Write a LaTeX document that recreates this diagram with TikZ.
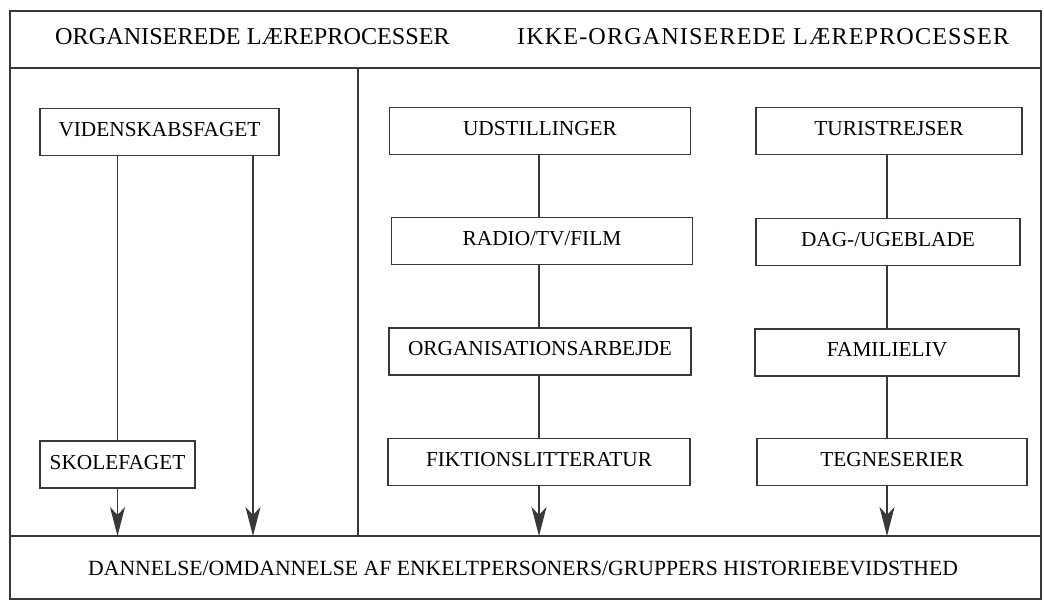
\documentclass[tikz,border=0pt]{standalone}
\usepackage{fontspec}
\setmainfont{Liberation Serif}
\usetikzlibrary{arrows.meta}
\begin{document}
\begin{tikzpicture}[x=1pt,y=-1pt,
  rule/.style={draw=black!78,line width=1.1pt},
  stepbox/.style={rule,rectangle,minimum height=47pt,inner sep=0pt,
    font=\fontsize{21.3}{24}\selectfont,text height=15pt,text depth=6pt},
  link/.style={rule},
  flow/.style={rule,-{Stealth[length=29pt,width=15pt,inset=8pt]}},
  heading/.style={font=\fontsize{24.2}{28}\selectfont,anchor=base west,inner sep=0pt},
  footer/.style={font=\fontsize{21.7}{26}\selectfont,anchor=base west,inner sep=0pt}]
\useasboundingbox (0,0) rectangle (1044,601);
\fill[white] (0,0) rectangle (1044,601);

% outer frame and dividing rules
\draw[rule] (10,11) rectangle (1041,599);
\draw[rule] (10,68) -- (1041,68);
\draw[rule] (10,536) -- (1041,536);
\draw[rule] (358,68) -- (358,536);

% headings
\node[heading] (hl) at (55,45) {ORGANISEREDE LÆREPROCESSER};
\node[heading,font=\fontsize{24.2}{28}\selectfont\addfontfeature{LetterSpace=4.5}] (hr) at (517,45) {IKKE-ORGANISEREDE LÆREPROCESSER};

% organised learning
\node[stepbox,minimum width=239pt] (vid) at (159.5,132) {VIDENSKABSFAGET};
\node[stepbox,minimum width=155pt] (sko) at (117.5,464.5) {SKOLEFAGET};

% non-organised learning, middle column
\node[stepbox,minimum width=301pt] (uds) at (540,131) {UDSTILLINGER};
\node[stepbox,minimum width=301pt] (rad) at (542,241) {RADIO/TV/FILM};
\node[stepbox,minimum width=302pt] (org) at (540,351.5) {ORGANISATIONSARBEJDE};
\node[stepbox,minimum width=302pt] (fik) at (539,462) {FIKTIONSLITTERATUR};

% non-organised learning, right column
\node[stepbox,minimum width=266pt] (tur) at (889,131) {TURISTREJSER};
\node[stepbox,minimum width=264pt] (dag) at (888,242) {DAG-/UGEBLADE};
\node[stepbox,minimum width=264pt] (fam) at (887,352.5) {FAMILIELIV};
\node[stepbox,minimum width=270pt] (teg) at (892,462) {TEGNESERIER};

% arrow ends on the bottom rule
\coordinate (e1) at (117.5,536);
\coordinate (e2) at (253,536);
\coordinate (e3) at (539,536);
\coordinate (e4) at (887,536);

% connectors
\draw[link] (vid.south -| sko.north) -- (sko.north);
\draw[flow] (sko.south) -- (e1);
\draw[flow] (vid.south -| e2) -- (e2);

\draw[link] (uds.south -| e3) -- (rad.north -| e3);
\draw[link] (rad.south -| e3) -- (org.north -| e3);
\draw[link] (org.south -| e3) -- (fik.north -| e3);
\draw[flow] (fik.south -| e3) -- (e3);

\draw[link] (tur.south -| e4) -- (dag.north -| e4);
\draw[link] (dag.south -| e4) -- (fam.north -| e4);
\draw[link] (fam.south -| e4) -- (teg.north -| e4);
\draw[flow] (teg.south -| e4) -- (e4);

% bottom statement
\node[footer] (res) at (88,575) {DANNELSE/OMDANNELSE AF ENKELTPERSONERS/GRUPPERS HISTORIEBEVIDSTHED};
\end{tikzpicture}
\end{document}
